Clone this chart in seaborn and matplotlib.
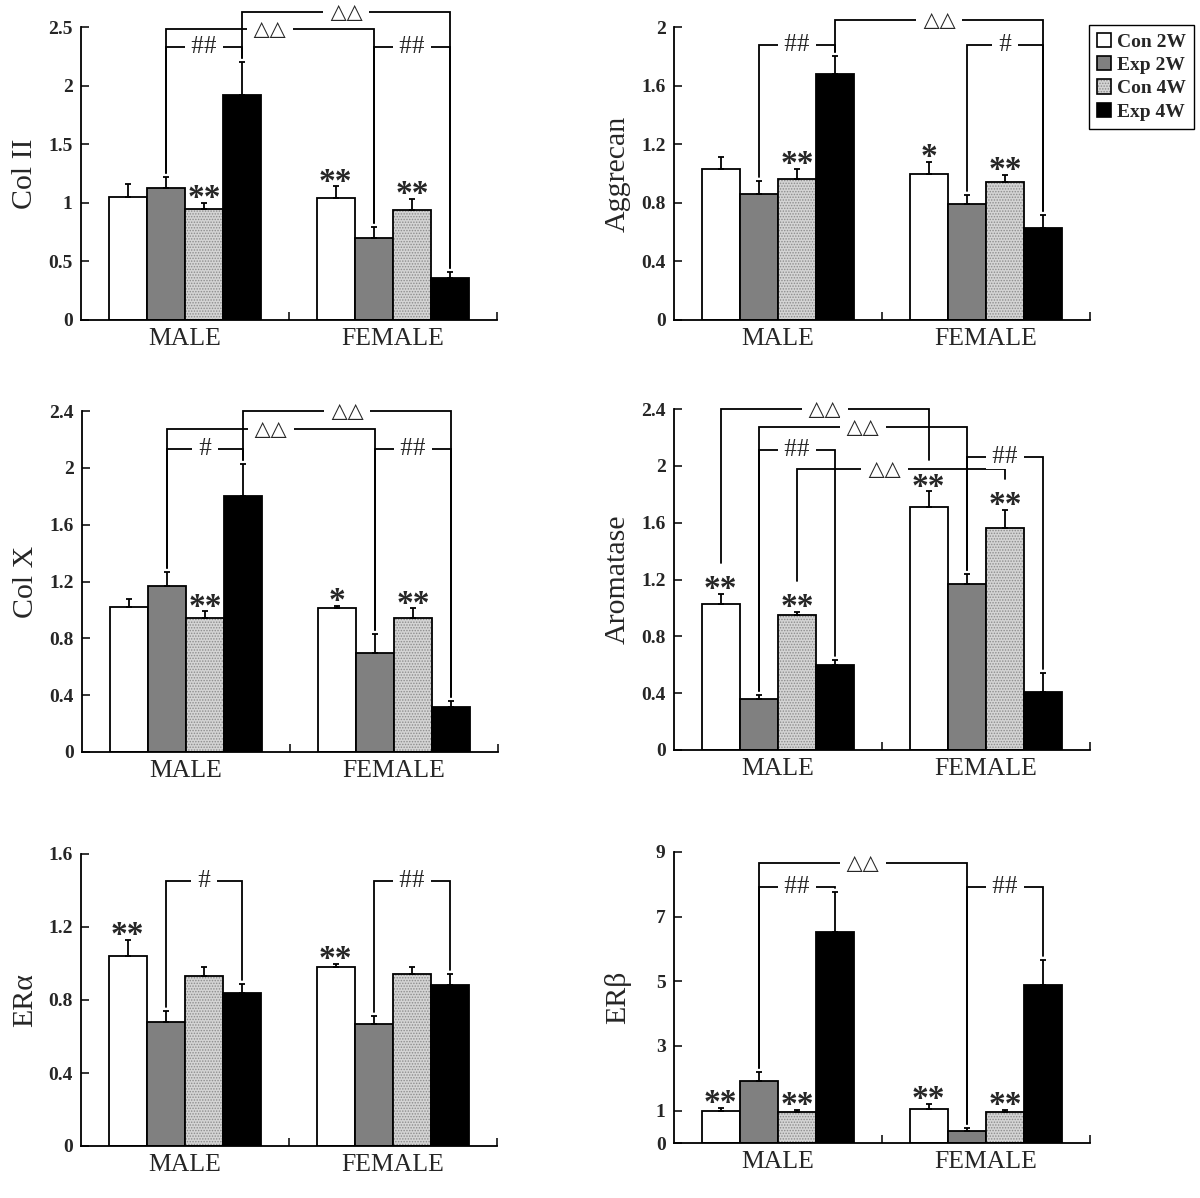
import numpy as np
import pandas as pd
import matplotlib
matplotlib.use("Agg")
import matplotlib.pyplot as plt
import matplotlib.colors as mcolors
from matplotlib.patches import Patch
from matplotlib.font_manager import FontProperties
import seaborn as sns

# ---------------- data ----------------
sexes = ["MALE", "FEMALE"]
groups = ["Con 2W", "Exp 2W", "Con 4W", "Exp 4W"]

col2_mean = [1.05, 1.13, 0.95, 1.92, 1.04, 0.70, 0.94, 0.36]
col2_err = [0.11, 0.09, 0.05, 0.28, 0.10, 0.09, 0.09, 0.05]
col2_stars = ["", "", "**", "", "**", "", "**", ""]
col2_brackets = [(3, 7, 2.63, "△△", 0.5), (1, 5, 2.48, "△△", 0.5),
                 (1, 3, 2.33, "##", 0.5), (5, 7, 2.33, "##", 0.5)]
col2_ticks = [0, 0.5, 1, 1.5, 2, 2.5]
col2_ticklabels = ["0", "0.5", "1", "1.5", "2", "2.5"]

agg_mean = [1.03, 0.86, 0.96, 1.68, 1.00, 0.79, 0.94, 0.63]
agg_err = [0.08, 0.09, 0.07, 0.12, 0.08, 0.06, 0.05, 0.09]
agg_stars = ["", "", "**", "", "*", "", "**", ""]
agg_brackets = [(3, 7, 2.05, "△△", 0.5), (1, 3, 1.88, "##", 0.5), (5, 7, 1.88, "#", 0.5)]
agg_ticks = [0, 0.4, 0.8, 1.2, 1.6, 2.0]
agg_ticklabels = ["0", "0.4", "0.8", "1.2", "1.6", "2"]

colx_mean = [1.02, 1.17, 0.94, 1.80, 1.01, 0.70, 0.94, 0.32]
colx_err = [0.06, 0.10, 0.05, 0.23, 0.02, 0.13, 0.07, 0.04]
colx_stars = ["", "", "**", "", "*", "", "**", ""]
colx_brackets = [(3, 7, 2.40, "△△", 0.5), (1, 5, 2.27, "△△", 0.5),
                 (1, 3, 2.13, "#", 0.5), (5, 7, 2.13, "##", 0.5)]
colx_ticks = [0, 0.4, 0.8, 1.2, 1.6, 2.0, 2.4]
colx_ticklabels = ["0", "0.4", "0.8", "1.2", "1.6", "2", "2.4"]

arom_mean = [1.03, 0.36, 0.95, 0.60, 1.71, 1.17, 1.56, 0.41]
arom_err = [0.07, 0.03, 0.02, 0.03, 0.11, 0.07, 0.13, 0.13]
arom_stars = ["**", "", "**", "", "**", "", "**", ""]
arom_brackets = [(0, 4, 2.40, "△△", 0.5), (1, 5, 2.27, "△△", 0.5), (1, 3, 2.11, "##", 0.5),
                 (5, 7, 2.06, "##", 0.5), (2, 6, 1.98, "△△", 0.42)]
arom_ticks = colx_ticks
arom_ticklabels = colx_ticklabels

era_mean = [1.04, 0.68, 0.93, 0.84, 0.98, 0.67, 0.94, 0.88]
era_err = [0.09, 0.06, 0.05, 0.05, 0.02, 0.04, 0.04, 0.06]
era_stars = ["**", "", "", "", "**", "", "", ""]
era_brackets = [(1, 3, 1.45, "#", 0.5), (5, 7, 1.45, "##", 0.5)]
era_ticks = [0, 0.4, 0.8, 1.2, 1.6]
era_ticklabels = ["0", "0.4", "0.8", "1.2", "1.6"]

erb_mean = [0.99, 1.92, 0.96, 6.53, 1.05, 0.37, 0.96, 4.90]
erb_err = [0.09, 0.28, 0.06, 1.24, 0.15, 0.09, 0.06, 0.77]
erb_stars = ["**", "", "**", "", "**", "", "**", ""]
erb_brackets = [(1, 5, 8.67, "△△", 0.5), (1, 3, 7.93, "##", 0.5), (5, 7, 7.93, "##", 0.5)]
erb_ticks = [0, 1, 3, 5, 7, 9]
erb_ticklabels = ["0", "1", "3", "5", "7", "9"]

panels = [
    ("Col II", col2_mean, col2_err, col2_stars, col2_brackets, col2_ticks, col2_ticklabels),
    ("Aggrecan", agg_mean, agg_err, agg_stars, agg_brackets, agg_ticks, agg_ticklabels),
    ("Col X", colx_mean, colx_err, colx_stars, colx_brackets, colx_ticks, colx_ticklabels),
    ("Aromatase", arom_mean, arom_err, arom_stars, arom_brackets, arom_ticks, arom_ticklabels),
    ("ERα", era_mean, era_err, era_stars, era_brackets, era_ticks, era_ticklabels),
    ("ERβ", erb_mean, erb_err, erb_stars, erb_brackets, erb_ticks, erb_ticklabels),
]

# ---------------- style ----------------
sns.set_theme(style="ticks")
plt.rcParams["font.family"] = ["Liberation Serif", "DejaVu Sans"]
plt.rcParams["hatch.linewidth"] = 0.7
plt.rcParams["axes.linewidth"] = 1.3

W, H = 1200, 1198
fig = plt.figure(figsize=(W / 100, H / 100), dpi=100)
fig.patch.set_facecolor("white")

# axes rectangles in pixels: left, top, right, bottom
rects = [(81, 27, 497, 320), (674, 27, 1090, 320),
         (82, 411, 498, 752), (674, 409, 1090, 750),
         (81, 854, 497, 1146), (674, 852, 1090, 1143)]

palette = {"Con 2W": "white", "Exp 2W": "#808080", "Con 4W": "#d4d4d4", "Exp 4W": "black"}
hatch_col = mcolors.to_rgba("#8c8c8c")


def set_hatch(p):
    p.set_hatch("......")
    if hasattr(p, "set_hatchcolor"):
        try:
            p.set_hatchcolor(hatch_col)
            return
        except Exception:
            pass
    p._hatch_color = hatch_col


for (ylabel, mean, err, stars, brackets, ticks, ticklabels), (l, t, r, b) in zip(panels, rects):
    ax = fig.add_axes([l / W, 1 - b / H, (r - l) / W, (b - t) / H])
    df = pd.DataFrame({
        "sex": [s for s in sexes for _ in groups],
        "group": groups * 2,
        "value": mean,
    })
    sns.barplot(data=df, x="sex", y="value", hue="group", order=sexes, hue_order=groups,
                palette=palette, width=0.735, errorbar=None, edgecolor="black",
                linewidth=1.3, saturation=1, legend=False, ax=ax, zorder=2)
    bars = sorted([p for p in ax.patches], key=lambda p: p.get_x())
    xs = np.array([p.get_x() + p.get_width() / 2 for p in bars])
    for k, p in enumerate(bars):
        if k % 4 == 2:
            set_hatch(p)
    mean_a = np.array(mean)
    err_a = np.array(err)
    ax.errorbar(xs, mean_a, yerr=[np.zeros_like(err_a), err_a], fmt="none",
                ecolor="black", elinewidth=1.3, capsize=2.5, capthick=1.3, zorder=3)

    ymax = ticks[-1]
    ax.set_ylim(0, ymax)
    ax.set_xlim(-0.5, 1.5)
    ax.set_yticks(ticks)
    ax.set_yticklabels(ticklabels, fontweight="bold", fontsize=14)
    ax.set_xticks([0, 1])
    ax.set_xticklabels(sexes, fontsize=18.5)
    ax.set_xticks([0.5, 1.5], minor=True)
    ax.tick_params(axis="x", which="major", length=0, pad=6)
    ax.tick_params(axis="x", which="minor", direction="in", length=6, width=1.3)
    ax.tick_params(axis="y", direction="in", length=6, width=1.3, pad=6)
    ax.set_xlabel("")
    ax.set_ylabel(ylabel, fontsize=21.5)
    ax.yaxis.set_label_coords(-43 / (r - l), 0.5)
    sns.despine(ax=ax)
    for sp in ax.spines.values():
        sp.set_color("black")

    unit_per_px = ymax / (b - t)
    tops = mean_a + err_a
    for x, top, s in zip(xs, tops, stars):
        if s:
            ax.annotate(s, xy=(x, top), xytext=(0, -3), textcoords="offset points",
                        ha="center", va="baseline", fontsize=24, fontweight="bold",
                        zorder=7, annotation_clip=False)

    def leg_bottom(i):
        extra = 4 + (27 if stars[i] else 0)
        return tops[i] + extra * unit_per_px

    for i, j, lev, lab, frac in brackets:
        ax.plot([xs[i], xs[i], xs[j], xs[j]], [leg_bottom(i), lev, lev, leg_bottom(j)],
                color="black", lw=1.3, clip_on=False, zorder=4, solid_joinstyle="miter")
        tri = "△" in lab
        ax.text(xs[i] + frac * (xs[j] - xs[i]), lev, " " + lab + " ", ha="center",
                va="center", fontsize=15 if tri else 18,
                family=["DejaVu Sans"] if tri else ["Liberation Serif"],
                bbox=dict(facecolor="white", edgecolor="none", pad=0.3),
                zorder=5, clip_on=False)

# legend
handles = []
for g in groups:
    hp = Patch(facecolor=palette[g], edgecolor="black", linewidth=1.2)
    if g == "Con 4W":
        set_hatch(hp)
    handles.append(hp)
leg = fig.legend(handles, groups, loc="upper left", bbox_to_anchor=(1089 / W, 1 - 25 / H),
                 frameon=True, fancybox=False, edgecolor="black", framealpha=1,
                 prop=FontProperties(family="Liberation Serif", weight="bold", size=14),
                 handlelength=0.75, handleheight=0.75, handletextpad=0.3,
                 labelspacing=0.28, borderpad=0.4, borderaxespad=0)
leg.get_frame().set_linewidth(1.0)

fig.savefig("out.png", dpi=100, facecolor="white")
